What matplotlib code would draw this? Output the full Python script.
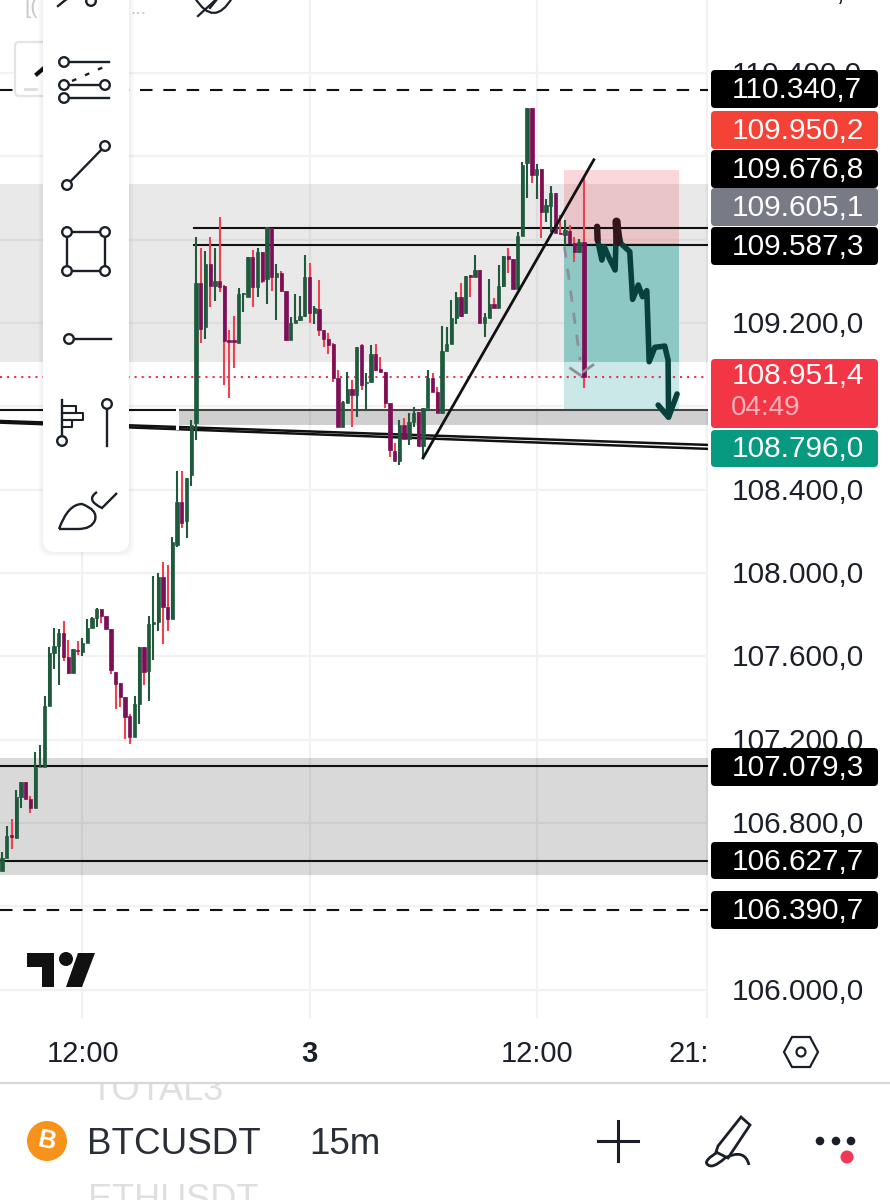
import numpy as np
import matplotlib
matplotlib.use('Agg')
import matplotlib.pyplot as plt
from matplotlib.patches import FancyBboxPatch, Rectangle, Circle, Polygon, PathPatch
from matplotlib.path import Path

plt.rcParams['font.family'] = ['Liberation Sans', 'DejaVu Sans']

# 15m candles
opens = [106571,106630,106740,106726,106923,106998,106913,106870,107067,107070,107361,107617,107649,107710,107595,107521,
         107630,107620,107665,107734,107782,107828,107795,107732,107526,107470,107406,107313,107214,107369,107646,107529,
         107753,107763,107979,107838,107777,108134,108341,108250,108470,108718,109390,109182,109483,109377,109401,109377,
         109116,109116,109102,109337,109326,109515,109374,109542,109412,109654,109422,109441,109352,109118,109201,109214,
         109233,109419,109249,109268,109166,109124,109099,108934,108702,108817,108881,108854,109092,108913,108916,109051,
         108977,108966,108817,108587,108539,108710,108644,108726,108774,108609,108790,108937,108870,108766,109067,109099,
         109222,109323,109246,109428,109419,109454,109201,109224,109291,109270,109377,109521,109505,109364,109617,109966,
         110230,109910,109937,109732,109761,109822,109633,109624,109643,109585,109542,109590]
highs = [106659,106787,106817,106958,106998,106998,106929,107140,107174,107411,107646,107734,107729,107768,107678,107633,
         107673,107686,107777,107787,107832,107828,107795,107732,107526,107470,107406,107323,107409,107646,107646,107795,
         107987,107998,108052,108038,108175,108490,108490,108456,108734,109611,109561,109547,109611,109561,109710,109382,
         109166,109233,109368,109345,109518,109550,109560,109542,109659,109654,109483,109451,109352,109227,109339,109329,
         109526,109486,109281,109406,109166,109150,109102,108974,108825,108966,108926,109086,109097,108958,109094,109097,
         109035,108966,108817,108625,108734,108742,108766,108798,108774,108790,108974,108961,108891,109185,109182,109310,
         109348,109393,109425,109428,109528,109454,109249,109409,109318,109478,109521,109558,109505,109636,109971,110230,
         110230,109963,109937,109796,109857,109822,109718,109694,109670,109614,109601,109905]
lows = [106571,106630,106673,106726,106870,106913,106846,106870,107067,107070,107361,107540,107460,107579,107515,107521,
        107608,107603,107665,107734,107742,107761,107732,107515,107345,107358,107203,107179,107214,107273,107464,107384,
        107580,107723,107657,107721,107777,108125,108216,108168,108418,108638,109102,109124,109278,109305,109350,108902,
        108838,108985,109102,109254,109323,109278,109326,109390,109291,109355,109214,109350,109115,109118,109198,109211,
        109230,109201,109195,109137,109086,109051,108918,108702,108702,108817,108702,108750,108878,108785,108916,108971,
        108966,108790,108555,108539,108518,108644,108612,108702,108609,108550,108790,108867,108766,108766,109067,109099,
        109195,109230,109246,109326,109419,109201,109134,109224,109270,109270,109374,109441,109364,109364,109617,109798,
        109870,109793,109606,109686,109638,109630,109625,109574,109579,109494,109534,108886]
closes = [106630,106737,106731,106926,106998,106913,106870,107067,107070,107361,107617,107649,107710,107595,107518,107633,
          107624,107665,107734,107782,107828,107795,107732,107534,107467,107406,107310,107214,107369,107646,107526,107753,
          107763,107982,107838,107779,108150,108341,108240,108456,108710,109390,109169,109483,109377,109401,109371,109113,
          109110,109110,109339,109345,109515,109374,109542,109403,109659,109422,109441,109352,109118,109201,109214,109233,
          109419,109249,109270,109166,109124,109096,108934,108702,108822,108881,108854,109086,108902,108918,109051,108974,
          108966,108817,108590,108539,108710,108644,108726,108766,108609,108790,108937,108867,108766,109067,109099,109222,
          109326,109233,109425,109419,109454,109201,109230,109291,109270,109377,109521,109505,109364,109617,109958,110230,
          109910,109937,109734,109764,109822,109630,109625,109646,109582,109542,109590,108939]

grid_prices = [106000,106400,106800,107200,107600,108000,108400,108800,109200,109600,110000,110400]
grid_bars = [17,65,113,149]
axis_labels = ['110.800,0','110.400,0','109.200,0','108.400,0','108.000,0','107.600,0','107.200,0','106.800,0','106.000,0']
axis_label_prices = [110800,110400,109200,108400,108000,107600,107200,106800,106000]

upper_zone = [109013,109867]
mid_zone = [108710,108782]
lower_zone = [106550,107112]
solid_levels = [107074,106618]
top_levels = [109656,109574]
dashed_levels = [110318,106382]
last_price = 108941
stop_price = 109934
entry_price = 109584
target_price = 108782

trend_x = [-1,150]
trend_y = [108730,108614]
trend2_y = [108722,108595]
rise_x = [89,125.1]
rise_y = [108552,109983]

sketch_x = [125.8,125.9,126.8,127.3,128.2,129.6,129.9,130.8,132.7,133.3,134.5,135.4,136.3,136.8,138.0,140.1,140.8,140.9]
sketch_y = [109662,109598,109502,109566,109518,109454,109686,109582,109542,109313,109382,109326,109355,109014,109083,109089,109022,108750]
sketch_head_x = [138.7,140.9,142.7]
sketch_head_y = [108806,108747,108859]

up_col = '#1f5a3c'
down_body = '#7c0f57'
down_wick = '#ef4150'

fig = plt.figure(figsize=(8.9,12),dpi=100)
ax = fig.add_axes([0,1-1018/1200,708/890,1018/1200])
ax.set_xlim(-0.44,149.24)
ax.set_ylim(105864,110750)
ax.axis('off')

for p in grid_prices:
    ax.axhline(p,color='#f2f2f2',lw=1.6,zorder=1)
for b in grid_bars:
    ax.axvline(b,color='#f2f2f2',lw=1.6,zorder=1)

ax.axhspan(upper_zone[0],upper_zone[1],color='#000000',alpha=0.088,lw=0,zorder=2)
ax.axhspan(lower_zone[0],lower_zone[1],color='#000000',alpha=0.15,lw=0,zorder=2)
ax.add_patch(Rectangle((37.2,mid_zone[0]),113,mid_zone[1]-mid_zone[0],color='#000000',alpha=0.19,lw=0,zorder=2))

# position box
box_x = 118.8
box_w = 24.3
ax.add_patch(Rectangle((box_x,entry_price),box_w,stop_price-entry_price,color='#f23645',alpha=0.2,lw=0,zorder=3))
ax.add_patch(Rectangle((box_x,upper_zone[0]),box_w,entry_price-upper_zone[0],color='#8ec8c4',lw=0,zorder=3))
ax.add_patch(Rectangle((box_x,target_price),box_w,upper_zone[0]-target_price,color='#c9e8e7',lw=0,zorder=3))

for p in solid_levels:
    ax.axhline(p,color='#111111',lw=1.5,zorder=4)
for p in dashed_levels:
    ax.axhline(p,color='#111111',lw=1.5,dashes=(6,5.2),zorder=4)
for p in top_levels:
    ax.plot([40.6,150],[p,p],color='#111111',lw=1.5,zorder=4)
ax.plot([-1,36.6],[mid_zone[1]]*2,color='#111111',lw=1.5,zorder=4)
ax.plot([37.2,150],[mid_zone[1]]*2,color='#444444',lw=1.5,zorder=4)
ax.plot(trend_x,trend_y,color='#111111',lw=1.8,zorder=4)
ax.plot(trend_x,trend2_y,color='#111111',lw=1.8,zorder=4)
ax.plot([36.9,36.9],[mid_zone[0]-15,mid_zone[1]+10],color='white',lw=2.2,zorder=4)
ax.plot(ax.get_xlim(),[last_price,last_price],color='#e8364a',lw=1.5,dashes=(1,2.4),zorder=4)

# candles
x = np.arange(len(opens))
o = np.array(opens)
c = np.array(closes)
up = c>=o
wick_cols = [up_col if u else down_wick for u in up]
body_cols = [up_col if u else down_body for u in up]
ax.vlines(x,lows,highs,colors=wick_cols,lw=1.5,zorder=5)
ax.bar(x,np.abs(c-o),bottom=np.minimum(o,c),width=0.7,color=body_cols,edgecolor=body_cols,lw=0.5,zorder=6)

ax.plot(rise_x,rise_y,color='#111111',lw=2,zorder=7)

# hand drawn path
ax.plot([118.9,122.2],[109566,109022],color='#8b8f99',lw=2,dashes=(4,4),zorder=7)
ax.plot([120.2,122.2],[108982,108950],color='#8b8f99',lw=2,zorder=7)
ax.plot([124.9,122.9],[108998,108966],color='#8b8f99',lw=2,zorder=7)
ax.plot(sketch_x,sketch_y,color='#08403b',lw=4,solid_joinstyle='round',solid_capstyle='round',zorder=8)
ax.plot(sketch_head_x,sketch_head_y,color='#08403b',lw=4,solid_joinstyle='round',solid_capstyle='round',zorder=8)
ax.plot(sketch_x[:2],sketch_y[:2],color='#33161a',lw=4.5,solid_capstyle='round',zorder=9)
ax.plot([129.9,130.2],[109686,109590],color='#33161a',lw=6,solid_capstyle='round',zorder=9)

# overlay in screen pixels for the app chrome
ui = fig.add_axes([0,0,1,1],zorder=10)
ui.set_xlim(0,890)
ui.set_ylim(1200,0)
ui.axis('off')
ui.patch.set_alpha(0)

def label_box(y0,y1,col):
    ui.add_patch(FancyBboxPatch((711,y0),167,y1-y0,boxstyle='round,pad=0,rounding_size=4',
                                fc=col,ec='none',zorder=3))

for txt,p in zip(axis_labels,axis_label_prices):
    ypx = 573+(108000-p)*0.2083
    ui.text(732,ypx+2,txt,fontsize=21.4,color='#1b1f2a',va='center',ha='left',zorder=2,clip_on=True)

boxes = [(70,108,'#000000','110.340,7'),(111,149,'#f44336','109.950,2'),(150,188,'#000000','109.676,8'),
         (188,226,'#787b86','109.605,1'),(227,265,'#000000','109.587,3'),(748,786,'#000000','107.079,3'),
         (842,879,'#000000','106.627,7'),(891,929,'#000000','106.390,7')]
for y0,y1,col,txt in boxes:
    label_box(y0,y1,col)
    ui.text(732,(y0+y1)/2+1,txt,fontsize=21.4,color='white',va='center',ha='left',zorder=4)
label_box(359,428,'#f23645')
ui.text(732,376,'108.951,4',fontsize=21.4,color='white',va='center',ha='left',zorder=4)
ui.text(731,408,'04:49',fontsize=20,color='#fbb4bd',va='center',ha='left',zorder=4)
label_box(430,467,'#089981')
ui.text(732,449,'108.796,0',fontsize=21.4,color='white',va='center',ha='left',zorder=4)

# time axis
for px,txt,w in [(83,'12:00','normal'),(309,'3','bold'),(537,'12:00','normal'),(689,'21:','normal')]:
    ui.text(px,1054,txt,fontsize=21,color='#1b1f2a',fontweight=w,va='center',ha='center')
hx = 801
hy = 1052
ui.add_patch(Polygon([(hx-17,hy),(hx-9,hy-15),(hx+9,hy-15),(hx+17,hy),(hx+9,hy+15),(hx-9,hy+15)],closed=True,fc='none',ec='#1b1f2a',lw=1.6))
ui.add_patch(Circle((hx,hy),4.5,fc='none',ec='#1b1f2a',lw=1.6))

# tradingview logo
ui.add_patch(Polygon([(27,953),(54,953),(54,987),(42,987),(42,967),(27,967)],closed=True,fc='#111111',ec='none'))
ui.add_patch(Circle((66,959),7,fc='#111111',ec='none'))
ui.add_patch(Polygon([(78,953),(95,953),(82,987),(66,987)],closed=True,fc='#111111',ec='none'))

# bottom bar
ui.add_patch(Rectangle((0,1084),890,116,fc='white',ec='none',zorder=1))
ui.plot([0,890],[1083,1083],color='#d8d8d8',lw=1.6,zorder=2)
t1 = ui.text(90,1091,'TOTAL3',fontsize=26,color='#dfdfdf',va='center',ha='left',zorder=2)
t1.set_clip_path(Rectangle((0,1084),890,116,transform=ui.transData))
t1.set_clip_on(True)
ui.text(88,1201,'ETHUSDT',fontsize=26,color='#dfdfdf',va='center',ha='left',zorder=2,clip_on=True)
ui.add_patch(Circle((47,1141),20,fc='#f7931a',ec='none',zorder=3))
ui.text(47,1141,'B',fontsize=18,color='white',fontweight='bold',rotation=-12,va='center',ha='center',zorder=4)
ui.text(87,1144,'BTCUSDT',fontsize=26.5,color='#2a2e39',va='center',ha='left',zorder=4)
ui.text(309,1144,'15m',fontsize=26.5,color='#2a2e39',va='center',ha='left',zorder=4)
ui.plot([598,638],[1141,1141],color='#1b1f2a',lw=2.2,zorder=4)
ui.plot([618,618],[1121,1161],color='#1b1f2a',lw=2.2,zorder=4)
ui.add_patch(Polygon([(741,1117),(750,1125),(728,1158),(716,1152),(718,1146)],closed=True,fc='none',ec='#1b1f2a',lw=2,zorder=4))
ui.add_patch(PathPatch(Path([(718,1152),(704,1160),(707,1164),(712,1170),(725,1158),(745,1148),(749,1165)],
                            [Path.MOVETO,Path.CURVE3,Path.CURVE3,Path.CURVE3,Path.CURVE3,Path.CURVE3,Path.CURVE3]),fc='none',ec='#1b1f2a',lw=2,zorder=4))
for px in [820,836,851]:
    ui.add_patch(Circle((px,1141),4.3,fc='#1b1f2a',ec='none',zorder=4))
ui.add_patch(Circle((847,1157),6.5,fc='#f23658',ec='none',zorder=5))

# top bits behind the toolbar
ui.add_patch(FancyBboxPatch((15,42),40,54,boxstyle='round,pad=0,rounding_size=4',fc='white',ec='#e4e4e4',lw=1.6,zorder=2))
ui.plot([37,44],[74,68],color='#111111',lw=3,zorder=3)
ui.plot([25,36],[89,89],color='#dddddd',lw=2,zorder=3)
ui.text(24,8,'[(',fontsize=16,color='#c9c9c9',va='center',ha='left',zorder=2)
ui.text(130,10,'...',fontsize=14,color='#c9c9c9',va='center',ha='left',zorder=2)
ui.add_patch(PathPatch(Path([(195,-2),(214,28),(232,-2)],[Path.MOVETO,Path.CURVE3,Path.CURVE3]),fc='none',ec='#1b1f2a',lw=1.6,zorder=3))
ui.plot([198,222],[16,-6],color='#1b1f2a',lw=1.6,zorder=3)
ui.plot([210,218],[8,-2],color='#1b1f2a',lw=1.6,zorder=3)

# drawing toolbar
for i in range(6):
    ui.add_patch(FancyBboxPatch((43-i,-20),86+2*i,572+i,boxstyle='round,pad=0,rounding_size=12',fc='#000000',ec='none',alpha=0.012,zorder=4))
ui.add_patch(FancyBboxPatch((43,-20),86,572,boxstyle='round,pad=0,rounding_size=12',fc='white',ec='none',zorder=5))

def tline(xs,ys,**kw):
    kw.setdefault('color','#1b1f2a')
    kw.setdefault('lw',1.7)
    ui.plot(xs,ys,zorder=6,**kw)

def knob(px,py,r=4.8):
    ui.add_patch(Circle((px,py),r,fc='white',ec='#1b1f2a',lw=1.7,zorder=7))

tline([58,68],[6,-2])
knob(91,1)
tline([66,109],[62,62])
tline([66,105],[85,85])
tline([66,109],[98,98])
tline([72,106],[81,66],dashes=(2,4))
for px,py in [(64,62),(64,85),(105,85),(64,98)]:
    knob(px,py)
tline([67,105],[185,146])
knob(67,185)
knob(105,146)
tline([67,105,105,67,67],[232,232,271,271,232])
for px,py in [(67,232),(105,232),(67,271),(105,271)]:
    knob(px,py)
tline([69,111],[339,339])
knob(69,339)
tline([62,62],[400,436])
tline([62,76,76,62],[406,406,413,413],lw=1.5)
tline([62,83,83,62],[413,413,420,420],lw=1.5)
tline([62,72,72,62],[420,420,427,427],lw=1.5)
knob(62,441)
tline([107,107],[409,446])
knob(107,404)
ui.add_patch(PathPatch(Path([(59,529),(68,504),(82,504),(98,510),(95,520),(92,529),(78,529),(59,529)],
                            [Path.MOVETO,Path.CURVE3,Path.CURVE3,Path.CURVE3,Path.CURVE3,Path.CURVE3,Path.CURVE3,Path.LINETO]),
                       fc='none',ec='#1b1f2a',lw=1.7,zorder=6))
ui.add_patch(PathPatch(Path([(97,492),(85,500),(102,508),(117,493)],[Path.MOVETO,Path.CURVE3,Path.CURVE3,Path.LINETO]),
                       fc='none',ec='#1b1f2a',lw=1.7,zorder=6))

fig.savefig('out.png',dpi=100)
